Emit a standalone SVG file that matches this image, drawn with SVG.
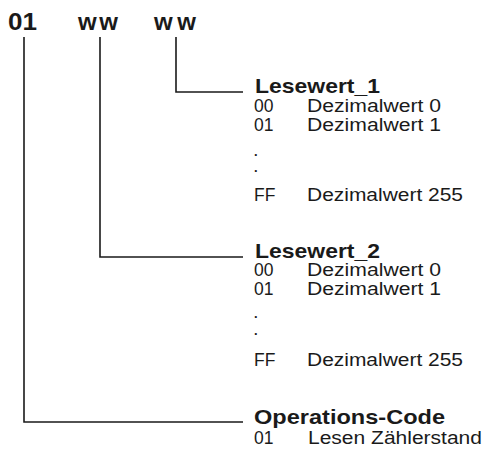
<svg xmlns="http://www.w3.org/2000/svg" width="484" height="451" viewBox="0 0 484 451">
<style>
text{font-family:"Liberation Sans",Arial,sans-serif;fill:#1a1a1a}
.top{font-size:24px;font-weight:bold}
.h{font-size:21px;font-weight:bold}
.r{font-size:17.5px}
.d{font-size:13px;font-weight:bold}
.ln{fill:none;stroke:#1a1a1a;stroke-width:1.6}
</style>
<rect width="484" height="451" fill="#fff"/>
<g id="fields">
<text class="top" x="8" y="30" textLength="29" lengthAdjust="spacingAndGlyphs">01</text>
<text class="top" x="78" y="30" textLength="40" lengthAdjust="spacing">ww</text>
<text class="top" x="154" y="30" textLength="42" lengthAdjust="spacing">ww</text>
</g>
<g id="connectors">
<polyline class="ln" points="176,37 176,92 243,92"/>
<polyline class="ln" points="100,37 100,257 243,257"/>
<polyline class="ln" points="24,37 24,422 243,422"/>
</g>
<g id="lesewert1">
<text class="h" x="255" y="93" textLength="125" lengthAdjust="spacingAndGlyphs">Lesewert_1</text>
<text class="r" x="254" y="112">00</text>
<text class="r" x="307" y="112" textLength="134" lengthAdjust="spacingAndGlyphs">Dezimalwert 0</text>
<text class="r" x="254" y="131">01</text>
<text class="r" x="307" y="131" textLength="134" lengthAdjust="spacingAndGlyphs">Dezimalwert 1</text>
<text class="d" x="254" y="156">.</text>
<text class="d" x="254" y="172">.</text>
<text class="r" x="254" y="201">FF</text>
<text class="r" x="307" y="201" textLength="156" lengthAdjust="spacingAndGlyphs">Dezimalwert 255</text>
</g>
<g id="lesewert2">
<text class="h" x="255" y="258" textLength="125" lengthAdjust="spacingAndGlyphs">Lesewert_2</text>
<text class="r" x="254" y="276">00</text>
<text class="r" x="307" y="276" textLength="134" lengthAdjust="spacingAndGlyphs">Dezimalwert 0</text>
<text class="r" x="254" y="295">01</text>
<text class="r" x="307" y="295" textLength="134" lengthAdjust="spacingAndGlyphs">Dezimalwert 1</text>
<text class="d" x="254" y="318">.</text>
<text class="d" x="254" y="335">.</text>
<text class="r" x="254" y="366">FF</text>
<text class="r" x="307" y="366" textLength="156" lengthAdjust="spacingAndGlyphs">Dezimalwert 255</text>
</g>
<g id="opcode">
<text class="h" x="254" y="424" textLength="191" lengthAdjust="spacingAndGlyphs">Operations-Code</text>
<text class="r" x="254" y="444">01</text>
<text class="r" x="308" y="444" textLength="174" lengthAdjust="spacingAndGlyphs">Lesen Zählerstand</text>
</g>
</svg>
